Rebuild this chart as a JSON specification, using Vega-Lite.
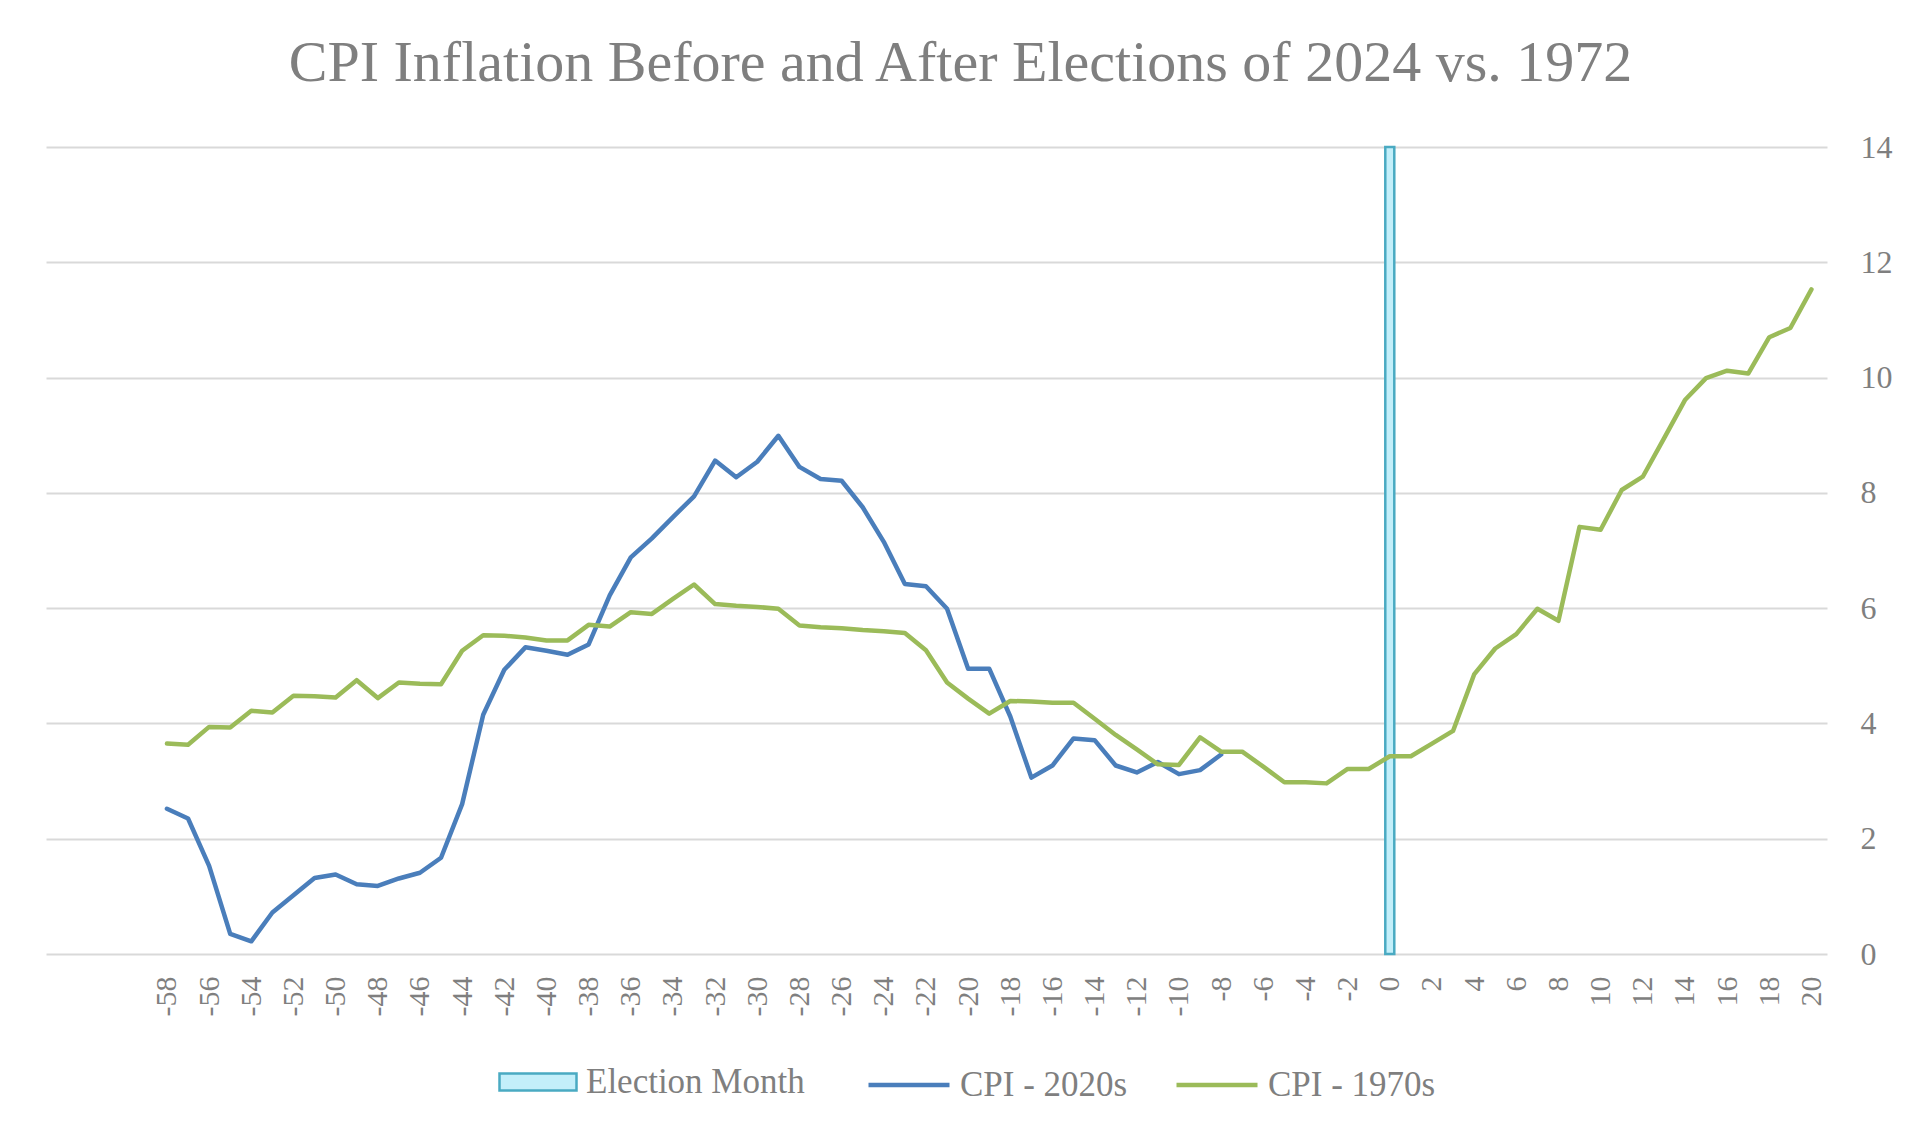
{
  "$schema": "https://vega.github.io/schema/vega-lite/v6.json",
  "width": 1781,
  "height": 807,
  "autosize": {"type": "none"},
  "padding": {"left": 46, "top": 147, "right": 93, "bottom": 186},
  "background": "white",
  "title": {
    "text": "CPI Inflation Before and After Elections of 2024 vs. 1972",
    "font": "Liberation Serif",
    "fontSize": 58,
    "fontWeight": "normal",
    "color": "#7f7f7f",
    "anchor": "middle",
    "frame": "group",
    "dx": 24,
    "offset": 38
  },
  "datasets": {
    "election": [
      {"month": 0, "top": 14, "label": "Election Month"}
    ],
    "cpi": [
      {"month": -58, "series": "CPI - 2020s", "cpi": 2.52},
      {"month": -57, "series": "CPI - 2020s", "cpi": 2.35},
      {"month": -56, "series": "CPI - 2020s", "cpi": 1.53},
      {"month": -55, "series": "CPI - 2020s", "cpi": 0.35},
      {"month": -54, "series": "CPI - 2020s", "cpi": 0.22},
      {"month": -53, "series": "CPI - 2020s", "cpi": 0.72},
      {"month": -52, "series": "CPI - 2020s", "cpi": 1.02},
      {"month": -51, "series": "CPI - 2020s", "cpi": 1.32},
      {"month": -50, "series": "CPI - 2020s", "cpi": 1.38},
      {"month": -49, "series": "CPI - 2020s", "cpi": 1.21},
      {"month": -48, "series": "CPI - 2020s", "cpi": 1.18},
      {"month": -47, "series": "CPI - 2020s", "cpi": 1.31},
      {"month": -46, "series": "CPI - 2020s", "cpi": 1.41},
      {"month": -45, "series": "CPI - 2020s", "cpi": 1.67},
      {"month": -44, "series": "CPI - 2020s", "cpi": 2.6},
      {"month": -43, "series": "CPI - 2020s", "cpi": 4.15},
      {"month": -42, "series": "CPI - 2020s", "cpi": 4.93},
      {"month": -41, "series": "CPI - 2020s", "cpi": 5.32},
      {"month": -40, "series": "CPI - 2020s", "cpi": 5.26},
      {"month": -39, "series": "CPI - 2020s", "cpi": 5.19},
      {"month": -38, "series": "CPI - 2020s", "cpi": 5.37},
      {"month": -37, "series": "CPI - 2020s", "cpi": 6.22},
      {"month": -36, "series": "CPI - 2020s", "cpi": 6.88},
      {"month": -35, "series": "CPI - 2020s", "cpi": 7.21},
      {"month": -34, "series": "CPI - 2020s", "cpi": 7.58},
      {"month": -33, "series": "CPI - 2020s", "cpi": 7.94},
      {"month": -32, "series": "CPI - 2020s", "cpi": 8.56},
      {"month": -31, "series": "CPI - 2020s", "cpi": 8.27},
      {"month": -30, "series": "CPI - 2020s", "cpi": 8.54},
      {"month": -29, "series": "CPI - 2020s", "cpi": 8.99},
      {"month": -28, "series": "CPI - 2020s", "cpi": 8.45},
      {"month": -27, "series": "CPI - 2020s", "cpi": 8.24},
      {"month": -26, "series": "CPI - 2020s", "cpi": 8.21},
      {"month": -25, "series": "CPI - 2020s", "cpi": 7.75},
      {"month": -24, "series": "CPI - 2020s", "cpi": 7.15},
      {"month": -23, "series": "CPI - 2020s", "cpi": 6.42},
      {"month": -22, "series": "CPI - 2020s", "cpi": 6.38},
      {"month": -21, "series": "CPI - 2020s", "cpi": 5.99},
      {"month": -20, "series": "CPI - 2020s", "cpi": 4.95},
      {"month": -19, "series": "CPI - 2020s", "cpi": 4.95},
      {"month": -18, "series": "CPI - 2020s", "cpi": 4.12},
      {"month": -17, "series": "CPI - 2020s", "cpi": 3.06},
      {"month": -16, "series": "CPI - 2020s", "cpi": 3.27},
      {"month": -15, "series": "CPI - 2020s", "cpi": 3.74},
      {"month": -14, "series": "CPI - 2020s", "cpi": 3.71},
      {"month": -13, "series": "CPI - 2020s", "cpi": 3.27},
      {"month": -12, "series": "CPI - 2020s", "cpi": 3.15},
      {"month": -11, "series": "CPI - 2020s", "cpi": 3.33},
      {"month": -10, "series": "CPI - 2020s", "cpi": 3.12},
      {"month": -9, "series": "CPI - 2020s", "cpi": 3.19},
      {"month": -8, "series": "CPI - 2020s", "cpi": 3.46},
      {"month": -58, "series": "CPI - 1970s", "cpi": 3.65},
      {"month": -57, "series": "CPI - 1970s", "cpi": 3.63},
      {"month": -56, "series": "CPI - 1970s", "cpi": 3.94},
      {"month": -55, "series": "CPI - 1970s", "cpi": 3.93},
      {"month": -54, "series": "CPI - 1970s", "cpi": 4.22},
      {"month": -53, "series": "CPI - 1970s", "cpi": 4.19},
      {"month": -52, "series": "CPI - 1970s", "cpi": 4.48},
      {"month": -51, "series": "CPI - 1970s", "cpi": 4.47},
      {"month": -50, "series": "CPI - 1970s", "cpi": 4.45},
      {"month": -49, "series": "CPI - 1970s", "cpi": 4.75},
      {"month": -48, "series": "CPI - 1970s", "cpi": 4.44},
      {"month": -47, "series": "CPI - 1970s", "cpi": 4.71},
      {"month": -46, "series": "CPI - 1970s", "cpi": 4.69},
      {"month": -45, "series": "CPI - 1970s", "cpi": 4.68},
      {"month": -44, "series": "CPI - 1970s", "cpi": 5.26},
      {"month": -43, "series": "CPI - 1970s", "cpi": 5.53},
      {"month": -42, "series": "CPI - 1970s", "cpi": 5.52},
      {"month": -41, "series": "CPI - 1970s", "cpi": 5.49},
      {"month": -40, "series": "CPI - 1970s", "cpi": 5.44},
      {"month": -39, "series": "CPI - 1970s", "cpi": 5.44},
      {"month": -38, "series": "CPI - 1970s", "cpi": 5.71},
      {"month": -37, "series": "CPI - 1970s", "cpi": 5.68},
      {"month": -36, "series": "CPI - 1970s", "cpi": 5.93},
      {"month": -35, "series": "CPI - 1970s", "cpi": 5.9},
      {"month": -34, "series": "CPI - 1970s", "cpi": 6.16},
      {"month": -33, "series": "CPI - 1970s", "cpi": 6.41},
      {"month": -32, "series": "CPI - 1970s", "cpi": 6.07},
      {"month": -31, "series": "CPI - 1970s", "cpi": 6.04},
      {"month": -30, "series": "CPI - 1970s", "cpi": 6.02},
      {"month": -29, "series": "CPI - 1970s", "cpi": 5.99},
      {"month": -28, "series": "CPI - 1970s", "cpi": 5.7},
      {"month": -27, "series": "CPI - 1970s", "cpi": 5.67},
      {"month": -26, "series": "CPI - 1970s", "cpi": 5.65},
      {"month": -25, "series": "CPI - 1970s", "cpi": 5.62},
      {"month": -24, "series": "CPI - 1970s", "cpi": 5.6},
      {"month": -23, "series": "CPI - 1970s", "cpi": 5.57},
      {"month": -22, "series": "CPI - 1970s", "cpi": 5.27},
      {"month": -21, "series": "CPI - 1970s", "cpi": 4.71},
      {"month": -20, "series": "CPI - 1970s", "cpi": 4.43},
      {"month": -19, "series": "CPI - 1970s", "cpi": 4.17},
      {"month": -18, "series": "CPI - 1970s", "cpi": 4.39},
      {"month": -17, "series": "CPI - 1970s", "cpi": 4.38},
      {"month": -16, "series": "CPI - 1970s", "cpi": 4.36},
      {"month": -15, "series": "CPI - 1970s", "cpi": 4.36},
      {"month": -14, "series": "CPI - 1970s", "cpi": 4.08},
      {"month": -13, "series": "CPI - 1970s", "cpi": 3.8},
      {"month": -12, "series": "CPI - 1970s", "cpi": 3.55},
      {"month": -11, "series": "CPI - 1970s", "cpi": 3.29},
      {"month": -10, "series": "CPI - 1970s", "cpi": 3.28},
      {"month": -9, "series": "CPI - 1970s", "cpi": 3.76},
      {"month": -8, "series": "CPI - 1970s", "cpi": 3.51},
      {"month": -7, "series": "CPI - 1970s", "cpi": 3.51},
      {"month": -6, "series": "CPI - 1970s", "cpi": 3.25},
      {"month": -5, "series": "CPI - 1970s", "cpi": 2.98},
      {"month": -4, "series": "CPI - 1970s", "cpi": 2.98},
      {"month": -3, "series": "CPI - 1970s", "cpi": 2.96},
      {"month": -2, "series": "CPI - 1970s", "cpi": 3.21},
      {"month": -1, "series": "CPI - 1970s", "cpi": 3.21},
      {"month": 0, "series": "CPI - 1970s", "cpi": 3.43},
      {"month": 1, "series": "CPI - 1970s", "cpi": 3.43},
      {"month": 2, "series": "CPI - 1970s", "cpi": 3.65},
      {"month": 3, "series": "CPI - 1970s", "cpi": 3.87},
      {"month": 4, "series": "CPI - 1970s", "cpi": 4.85},
      {"month": 5, "series": "CPI - 1970s", "cpi": 5.3},
      {"month": 6, "series": "CPI - 1970s", "cpi": 5.55},
      {"month": 7, "series": "CPI - 1970s", "cpi": 5.99},
      {"month": 8, "series": "CPI - 1970s", "cpi": 5.78},
      {"month": 9, "series": "CPI - 1970s", "cpi": 7.41},
      {"month": 10, "series": "CPI - 1970s", "cpi": 7.36},
      {"month": 11, "series": "CPI - 1970s", "cpi": 8.05},
      {"month": 12, "series": "CPI - 1970s", "cpi": 8.28},
      {"month": 13, "series": "CPI - 1970s", "cpi": 8.94},
      {"month": 14, "series": "CPI - 1970s", "cpi": 9.61},
      {"month": 15, "series": "CPI - 1970s", "cpi": 9.99},
      {"month": 16, "series": "CPI - 1970s", "cpi": 10.12},
      {"month": 17, "series": "CPI - 1970s", "cpi": 10.07},
      {"month": 18, "series": "CPI - 1970s", "cpi": 10.7},
      {"month": 19, "series": "CPI - 1970s", "cpi": 10.86},
      {"month": 20, "series": "CPI - 1970s", "cpi": 11.53}
    ]
  },
  "encoding": {
    "x": {
      "field": "month",
      "type": "quantitative",
      "title": null,
      "scale": {"domain": [-63.5, 20.5], "nice": false, "zero": false},
      "axis": {
        "values": [-58, -56, -54, -52, -50, -48, -46, -44, -42, -40, -38, -36, -34, -32, -30, -28, -26, -24, -22, -20, -18, -16, -14, -12, -10, -8, -6, -4, -2, 0, 2, 4, 6, 8, 10, 12, 14, 16, 18, 20],
        "labelExpr": "datum.value < 0 ? '-' + (-datum.value) : '' + datum.value",
        "labelAngle": 270,
        "labelPadding": 22,
        "labelFontSize": 30,
        "domain": false,
        "ticks": false,
        "grid": false
      }
    }
  },
  "layer": [
    {
      "data": {"name": "election"},
      "mark": {"type": "bar", "size": 9, "stroke": "#4aaac2", "strokeWidth": 2.5},
      "encoding": {
        "y": {
          "field": "top",
          "type": "quantitative",
          "title": null,
          "scale": {"domain": [0, 14], "nice": false},
          "axis": {
            "orient": "right",
            "values": [0, 2, 4, 6, 8, 10, 12, 14],
            "format": "d",
            "labelFontSize": 32,
            "labelPadding": 33,
            "domain": false,
            "ticks": false,
            "grid": true,
            "gridColor": "#d9d9d9",
            "gridWidth": 2
          }
        },
        "fill": {
          "field": "label",
          "type": "nominal",
          "scale": {"range": ["#c3effa"]},
          "legend": {
            "title": null,
            "orient": "none",
            "legendX": 452,
            "legendY": 895,
            "symbolType": "M-1,-0.22H1V0.22H-1Z",
            "symbolSize": 5929,
            "symbolStrokeColor": "#4aaac2",
            "symbolStrokeWidth": 2.5,
            "labelOffset": 8
          }
        }
      }
    },
    {
      "data": {"name": "cpi"},
      "mark": {"type": "line", "strokeWidth": 4.5, "strokeJoin": "round", "strokeCap": "round"},
      "encoding": {
        "y": {"field": "cpi", "type": "quantitative"},
        "stroke": {
          "field": "series",
          "type": "nominal",
          "sort": ["CPI - 2020s", "CPI - 1970s"],
          "scale": {"domain": ["CPI - 2020s", "CPI - 1970s"], "range": ["#4a7ebb", "#9bbb59"]},
          "legend": {
            "title": null,
            "orient": "none",
            "direction": "horizontal",
            "legendX": 820,
            "legendY": 895,
            "symbolType": "stroke",
            "symbolSize": 6561,
            "symbolStrokeWidth": 4.5,
            "labelOffset": 8,
            "columnPadding": 39
          }
        }
      }
    }
  ],
  "config": {
    "view": {"stroke": null},
    "font": "Liberation Serif",
    "axis": {
      "labelFont": "Liberation Serif",
      "labelColor": "#7f7f7f"
    },
    "legend": {
      "labelFont": "Liberation Serif",
      "labelFontSize": 35,
      "labelColor": "#7f7f7f",
      "padding": 0,
      "labelLimit": 400
    }
  }
}
